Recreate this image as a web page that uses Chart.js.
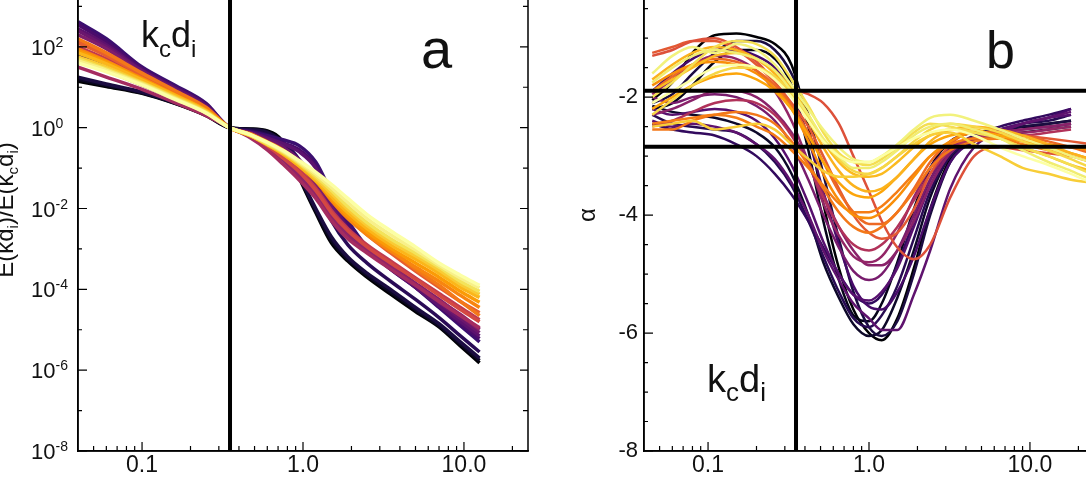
<!DOCTYPE html>
<html lang="en">
<head>
<meta charset="UTF-8">
<title>Normalized spectra and local spectral index</title>
<style>
  html, body { margin: 0; padding: 0; width: 1086px; height: 485px; overflow: hidden; background: #fff; }
  .panel { position: absolute; top: -40px; }
  #panelA { left: 0; }
  #panelB { left: 560px; }
</style>
</head>
<body>
<div id="panelA" class="panel"><canvas id="chartA" width="540" height="525"></canvas></div>
<div id="panelB" class="panel"><canvas id="chartB" width="540" height="525"></canvas></div>

<script src="https://cdn.jsdelivr.net/npm/chart.js@4.4.2/dist/chart.umd.min.js"></script>
<script>
// ---- data -------------------------------------------------------------
// k d_i of the sample points, panel a
const kA = [0.04, 0.06, 0.1, 0.16, 0.25, 0.35, 0.47, 0.6, 0.75, 0.95, 1.2, 1.5, 1.9, 2.5, 3.5, 5, 7, 9.5, 12.5];

// log10 of E(kd_i)/E(k_c d_i), one per interval, dark -> light
const spec01 = [1.15, 1.02, 0.85, 0.6, 0.3, 0, -0.03, -0.08, -0.35, -1.25, -2.1, -2.85, -3.3, -3.7, -4.12, -4.55, -4.93, -5.4, -5.82];
const spec02 = [1.2, 1.05, 0.86, 0.61, 0.31, 0, -0.04, -0.1, -0.38, -1.22, -2.05, -2.78, -3.25, -3.65, -4.06, -4.5, -4.9, -5.35, -5.76];
const spec03 = [1.25, 1.08, 0.88, 0.62, 0.32, 0, -0.05, -0.12, -0.4, -1.2, -2.0, -2.7, -3.2, -3.6, -4.0, -4.45, -4.85, -5.3, -5.7];
const spec04 = [1.8, 1.55, 1.15, 0.8, 0.45, 0, -0.08, -0.18, -0.36, -0.8, -1.5, -2.3, -2.9, -3.35, -3.8, -4.25, -4.7, -5.15, -5.55];
const spec05 = [2.62, 2.2, 1.5, 1.05, 0.6, 0, -0.1, -0.2, -0.3, -0.45, -0.85, -1.6, -2.3, -2.95, -3.45, -3.95, -4.45, -4.9, -5.3];
const spec06 = [2.55, 2.12, 1.46, 1.0, 0.57, 0, -0.11, -0.24, -0.38, -0.55, -0.95, -1.7, -2.4, -3.0, -3.5, -3.95, -4.42, -4.85, -5.22];
const spec07 = [2.45, 2.05, 1.42, 0.98, 0.55, 0, -0.12, -0.26, -0.4, -0.6, -1.0, -1.8, -2.5, -3.0, -3.5, -3.95, -4.4, -4.8, -5.15];
const spec08 = [2.4, 2.0, 1.4, 0.95, 0.52, 0, -0.13, -0.3, -0.48, -0.8, -1.3, -1.95, -2.55, -3.0, -3.45, -3.9, -4.32, -4.72, -5.07];
const spec09 = [2.3, 1.95, 1.35, 0.92, 0.5, 0, -0.15, -0.35, -0.55, -0.9, -1.4, -2.05, -2.6, -3.0, -3.4, -3.85, -4.25, -4.65, -5.0];
const spec10 = [1.7, 1.42, 1.05, 0.7, 0.35, 0, -0.22, -0.48, -0.8, -1.2, -1.65, -2.2, -2.68, -3.05, -3.45, -3.88, -4.28, -4.62, -4.98];
const spec11 = [1.5, 1.25, 0.95, 0.62, 0.3, 0, -0.25, -0.55, -0.9, -1.3, -1.75, -2.3, -2.75, -3.1, -3.5, -3.9, -4.3, -4.65, -4.95];
const spec12 = [2.0, 1.7, 1.25, 0.85, 0.45, 0, -0.18, -0.42, -0.7, -1.05, -1.5, -2.05, -2.5, -2.9, -3.3, -3.72, -4.1, -4.45, -4.75];
const spec13 = [2.15, 1.8, 1.3, 0.9, 0.48, 0, -0.2, -0.45, -0.75, -1.1, -1.55, -2.1, -2.55, -2.95, -3.35, -3.75, -4.15, -4.5, -4.8];
const spec14 = [2.1, 1.78, 1.3, 0.88, 0.47, 0, -0.17, -0.38, -0.6, -0.9, -1.3, -1.75, -2.2, -2.65, -3.1, -3.55, -3.95, -4.3, -4.58];
const spec15 = [2.2, 1.85, 1.35, 0.92, 0.5, 0, -0.15, -0.35, -0.55, -0.85, -1.2, -1.6, -2.05, -2.5, -3.0, -3.5, -3.9, -4.3, -4.65];
const spec16 = [1.95, 1.65, 1.22, 0.82, 0.44, 0, -0.18, -0.4, -0.62, -0.92, -1.3, -1.8, -2.25, -2.65, -3.05, -3.45, -3.8, -4.15, -4.45];
const spec17 = [1.9, 1.62, 1.2, 0.81, 0.43, 0, -0.19, -0.41, -0.64, -0.95, -1.32, -1.75, -2.18, -2.58, -2.98, -3.35, -3.7, -4.05, -4.32];
const spec18 = [1.85, 1.58, 1.18, 0.8, 0.42, 0, -0.2, -0.42, -0.65, -0.95, -1.3, -1.7, -2.1, -2.5, -2.9, -3.25, -3.6, -3.95, -4.2];
const spec19 = [1.75, 1.5, 1.12, 0.76, 0.4, 0, -0.19, -0.41, -0.62, -0.9, -1.25, -1.62, -2.02, -2.42, -2.82, -3.17, -3.52, -3.87, -4.12];
const spec20 = [1.7, 1.45, 1.1, 0.74, 0.38, 0, -0.18, -0.4, -0.6, -0.88, -1.2, -1.55, -1.95, -2.35, -2.75, -3.1, -3.45, -3.8, -4.05];
const spec21 = [1.65, 1.42, 1.08, 0.72, 0.37, 0, -0.17, -0.37, -0.58, -0.85, -1.15, -1.48, -1.85, -2.25, -2.65, -3.02, -3.4, -3.72, -3.96];
const spec22 = [1.6, 1.38, 1.05, 0.7, 0.36, 0, -0.17, -0.36, -0.56, -0.82, -1.1, -1.4, -1.75, -2.15, -2.55, -2.95, -3.35, -3.65, -3.9];

// k d_i of the sample points, panel b
const kB = [0.045, 0.06, 0.08, 0.11, 0.15, 0.2, 0.26, 0.33, 0.42, 0.52, 0.65, 0.8, 1.0, 1.2, 1.5, 1.9, 2.4, 3.2, 4.5, 6.5, 9, 13, 18, 24];

// local spectral index alpha, one per interval, dark -> light
const slope01 = [-2.05, -1.75, -1.25, -0.95, -0.92, -0.98, -1.1, -1.45, -2.5, -3.8, -4.9, -5.6, -6.0, -6.12, -5.75, -4.9, -3.9, -3.05, -2.7, -2.55, -2.5, -2.5, -2.45, null];
const slope02 = [-2.2, -2.1, -1.8, -1.4, -1.2, -1.2, -1.35, -1.8, -2.9, -4.1, -5.1, -5.7, -5.8, -5.5, -4.8, -3.9, -3.2, -2.75, -2.6, -2.55, -2.5, -2.45, -2.4, null];
const slope03 = [-2.15, -2.25, -2.3, -2.35, -2.45, -2.6, -2.85, -3.3, -4.0, -4.8, -5.4, -5.85, -6.05, -5.95, -5.4, -4.6, -3.7, -3.0, -2.75, -2.65, -2.6, -2.55, -2.5, null];
const slope04 = [-2.1, -1.95, -1.6, -1.25, -1.05, -1.05, -1.2, -1.6, -2.3, -3.3, -4.4, -5.3, -5.9, -6.05, -5.8, -5.0, -4.0, -3.1, -2.7, -2.6, -2.5, -2.45, -2.4, null];
const slope05 = [-2.3, -2.45, -2.5, -2.55, -2.6, -2.8, -3.1, -3.5, -4.1, -4.7, -5.3, -5.75, -5.9, -5.7, -5.2, -4.4, -3.6, -3.0, -2.7, -2.55, -2.45, -2.4, -2.3, null];
const slope06 = [-2.45, -2.55, -2.6, -2.65, -2.8, -3.0, -3.3, -3.65, -4.1, -4.55, -5.0, -5.35, -5.5, -5.35, -4.85, -4.1, -3.4, -2.9, -2.65, -2.5, -2.4, -2.3, -2.2, null];
const slope07 = [-1.9, -1.6, -1.35, -1.2, -1.2, -1.3, -1.5, -1.9, -2.7, -3.6, -4.5, -5.2, -5.55, -5.6, -5.3, -4.7, -3.9, -3.1, -2.75, -2.6, -2.45, -2.35, -2.2, null];
const slope08 = [-2.2, -2.3, -2.25, -2.2, -2.25, -2.4, -2.7, -3.15, -3.8, -4.45, -5.0, -5.35, -5.45, -5.3, -4.9, -4.2, -3.5, -2.95, -2.7, -2.55, -2.45, -2.35, -2.3, null];
const slope09 = [-2.4, -2.5, -2.45, -2.5, -2.6, -2.8, -3.05, -3.45, -4.0, -4.6, -5.1, -5.5, -5.75, -5.95, -5.95, -5.35, -4.6, -3.55, -2.85, -2.6, -2.45, -2.35, -2.25, null];
const slope10 = [-2.0, -2.1, -2.0, -1.95, -2.0, -2.15, -2.4, -2.8, -3.4, -4.0, -4.55, -4.95, -5.1, -5.0, -4.6, -4.0, -3.4, -2.9, -2.7, -2.6, -2.55, -2.5, -2.45, null];
const slope11 = [-2.3, -2.2, -2.05, -1.9, -1.9, -2.0, -2.25, -2.6, -3.1, -3.65, -4.2, -4.6, -4.85, -4.85, -4.6, -4.1, -3.5, -2.95, -2.7, -2.6, -2.55, -2.5, -2.45, null];
const slope12 = [-1.95, -1.7, -1.45, -1.3, -1.35, -1.55, -1.9, -2.4, -3.1, -3.8, -4.35, -4.7, -4.8, -4.7, -4.3, -3.7, -3.2, -2.85, -2.7, -2.6, -2.6, -2.55, -2.5, null];
const slope13 = [-2.5, -2.4, -2.25, -2.1, -2.05, -2.1, -2.3, -2.65, -3.15, -3.7, -4.2, -4.5, -4.6, -4.5, -4.2, -3.75, -3.3, -2.9, -2.7, -2.65, -2.65, -2.6, -2.55, null];
const slope14 = [-1.25, -1.15, -1.05, -1.05, -1.2, -1.45, -1.75, -2.1, -2.5, -3.0, -3.55, -4.0, -4.3, -4.4, -4.3, -3.9, -3.3, -2.8, -2.6, -2.6, -2.65, -2.7, -2.75, -2.8];
const slope15 = [-1.3, -1.2, -1.05, -1.0, -1.15, -1.4, -1.7, -1.85, -1.95, -2.1, -2.45, -3.0, -3.6, -4.1, -4.55, -4.75, -4.5, -3.7, -3.0, -2.85, -2.9, -2.95, -3.0, null];
const slope16 = [-1.9, -1.65, -1.45, -1.35, -1.4, -1.55, -1.8, -2.15, -2.6, -3.1, -3.6, -3.95, -4.15, -4.15, -3.95, -3.55, -3.1, -2.75, -2.6, -2.6, -2.65, -2.75, -2.85, -2.95];
const slope17 = [-2.55, -2.55, -2.4, -2.3, -2.25, -2.3, -2.45, -2.75, -3.15, -3.55, -3.95, -4.2, -4.3, -4.2, -3.95, -3.6, -3.2, -2.9, -2.75, -2.7, -2.75, -2.8, -2.85, null];
const slope18 = [-2.45, -2.4, -2.35, -2.3, -2.35, -2.5, -2.65, -2.9, -3.2, -3.5, -3.8, -3.95, -3.95, -3.85, -3.6, -3.3, -3.0, -2.8, -2.7, -2.7, -2.8, -2.9, -3.0, -3.1];
const slope19 = [-1.8, -1.6, -1.45, -1.4, -1.45, -1.6, -1.85, -2.2, -2.75, -3.3, -3.75, -4.0, -4.05, -3.95, -3.7, -3.35, -3.0, -2.75, -2.6, -2.65, -2.7, -2.8, -2.85, -2.9];
const slope20 = [-2.2, -2.0, -1.8, -1.65, -1.6, -1.7, -1.9, -2.2, -2.65, -3.1, -3.45, -3.65, -3.7, -3.6, -3.35, -3.05, -2.8, -2.65, -2.6, -2.65, -2.75, -2.85, -2.95, -3.05];
const slope21 = [-1.7, -1.45, -1.25, -1.15, -1.2, -1.35, -1.6, -1.95, -2.4, -2.85, -3.25, -3.5, -3.6, -3.55, -3.35, -3.05, -2.75, -2.55, -2.5, -2.55, -2.65, -2.8, -2.95, -3.05];
const slope22 = [-1.9, -1.7, -1.5, -1.3, -1.25, -1.35, -1.55, -1.85, -2.3, -2.75, -3.1, -3.3, -3.35, -3.3, -3.1, -2.85, -2.65, -2.55, -2.55, -2.7, -2.85, -3.0, -3.15, -3.25];
const slope23 = [-2.5, -2.45, -2.4, -2.55, -2.5, -2.45, -2.55, -2.8, -3.05, -3.25, -3.35, -3.35, -3.3, -3.2, -3.0, -2.8, -2.65, -2.6, -2.8, -3.0, -3.2, -3.3, -3.4, -3.45];
const slope24 = [-2.3, -2.05, -1.8, -1.6, -1.5, -1.5, -1.65, -1.95, -2.35, -2.75, -3.05, -3.25, -3.3, -3.2, -3.0, -2.75, -2.55, -2.45, -2.5, -2.6, -2.75, -2.9, -3.05, -3.2];
const slope25 = [-2.0, -1.75, -1.45, -1.15, -1.05, -1.1, -1.3, -1.7, -2.15, -2.6, -2.95, -3.1, -3.15, -3.05, -2.85, -2.6, -2.45, -2.5, -2.6, -2.7, -2.85, -3.0, -3.15, -3.3];
const slope26 = [-1.6, -1.3, -1.15, -1.25, -1.1, -1.2, -1.45, -1.8, -2.2, -2.55, -2.85, -3.05, -3.1, -3.0, -2.8, -2.55, -2.35, -2.3, -2.4, -2.55, -2.7, -2.85, -3.0, -3.1];
const slope27 = [-1.75, -1.5, -1.3, -1.2, -1.25, -1.35, -1.55, -1.9, -2.3, -2.7, -3.0, -3.2, -3.2, -3.1, -2.9, -2.65, -2.5, -2.45, -2.55, -2.7, -2.9, -3.1, -3.25, -3.4];
const slope28 = [-2.1, -1.9, -1.7, -1.5, -1.45, -1.5, -1.7, -2.0, -2.4, -2.75, -3.0, -3.1, -3.1, -3.0, -2.85, -2.7, -2.6, -2.55, -2.65, -2.85, -3.0, -3.15, -3.3, -3.45];

// axes
const xTicks = [0.05, 0.06, 0.07, 0.08, 0.09, 0.1, 0.2, 0.3, 0.4, 0.5, 0.6, 0.7, 0.8, 0.9, 1, 2, 3, 4, 5, 6, 7, 8, 9, 10, 20];
const xLabels = { 0.1: '0.1', 1: '1.0', 10: '10.0' };
const decadesA = [-8, -7, -6, -5, -4, -3, -2, -1, 0, 1, 2, 3];
const alphaTicks = [-8, -7.5, -7, -6.5, -6, -5.5, -5, -4.5, -4, -3.5, -3, -2.5, -2, -1.5, -1, -0.5, 0];

// reference lines
const kc = 0.352;
const alphaLines = [-1.89, -2.84];

// ---- styling ----------------------------------------------------------
const FONT = "'Liberation Sans', Arial, Helvetica, sans-serif";
Chart.defaults.font.family = FONT;
Chart.defaults.color = '#111';

const specSeries = [spec01, spec02, spec03, spec04, spec05, spec06, spec07, spec08, spec09, spec10, spec11,
                    spec12, spec13, spec14, spec15, spec16, spec17, spec18, spec19, spec20, spec21, spec22];
const specColors = ['#000004', '#0a0722', '#1b0c41', '#2a0b57', '#3b0f70', '#4a0c6b', '#5c126e', '#6b176e', '#7e1e6c', '#8f2469', '#a52c60',
                    '#c13a50', '#d44842', '#e65d2f', '#f37819', '#f8850f', '#fb9b06', '#fbb61a', '#f9cb35', '#f3e35a', '#f8f08a', '#fcffa4'];

const slopeSeries = [slope01, slope02, slope03, slope04, slope05, slope06, slope07, slope08, slope09, slope10, slope11, slope12, slope13, slope14,
                     slope15, slope16, slope17, slope18, slope19, slope20, slope21, slope22, slope23, slope24, slope25, slope26, slope27, slope28];
const slopeColors = ['#000004', '#06051a', '#0d0829', '#1b0c41', '#280b53', '#320a5e', '#470b6a', '#57106e', '#5f136e', '#781c6d', '#8a226a', '#932667', '#b1325a', '#e35933',
                     '#dd513a', '#ed6925', '#f37819', '#f57d15', '#f98e09', '#fca50a', '#fbb21d', '#fbba1f', '#f8cd37', '#f6d746', '#f4de52', '#f2f27d', '#f1ed71', '#fcffa4'];

function makeSets(xs, series, colors, toY, width) {
  const n = series.length;
  return series.map((ys, i) => ({
    data: xs.map((x, j) => ({ x: x, y: ys[j] == null ? null : toY(ys[j]) })),
    borderColor: colors[i],
    borderWidth: width,
    pointRadius: 0,
    fill: false,
    cubicInterpolationMode: 'monotone',
    order: n - i          // light curves end up on top
  }));
}

// text with sub/superscripts: parts = [text, size, dy]
function richText(ctx, parts, x, y, align) {
  let w = 0;
  parts.forEach(p => { ctx.font = p[1] + 'px ' + FONT; w += ctx.measureText(p[0]).width; });
  let cx = align === 'center' ? x - w / 2 : x;
  ctx.textAlign = 'left';
  ctx.textBaseline = 'alphabetic';
  parts.forEach(p => {
    ctx.font = p[1] + 'px ' + FONT;
    ctx.fillText(p[0], cx, y + (p[2] || 0));
    cx += ctx.measureText(p[0]).width;
  });
}

// frame, inward ticks, reference lines and labels
const framePlugin = {
  id: 'frame',
  afterDatasetsDraw(chart, args, opts) {
    const { ctx, chartArea: a, scales: { x, y } } = chart;
    ctx.save();
    ctx.strokeStyle = '#000';
    ctx.lineCap = 'butt';

    ctx.lineWidth = 4;
    ctx.beginPath();
    (opts.vLines || []).forEach(v => {
      const px = x.getPixelForValue(v);
      ctx.moveTo(px, a.top); ctx.lineTo(px, a.bottom);
    });
    (opts.hLines || []).forEach(v => {
      const py = y.getPixelForValue(v);
      ctx.moveTo(a.left, py); ctx.lineTo(a.right, py);
    });
    ctx.stroke();

    ctx.lineWidth = 1.5;
    ctx.beginPath();
    ctx.moveTo(a.left, a.top); ctx.lineTo(a.left, a.bottom);
    ctx.lineTo(a.right, a.bottom); ctx.lineTo(a.right, a.top);
    ctx.stroke();

    ctx.lineWidth = 1.2;
    ctx.beginPath();
    xTicks.forEach(v => {
      const px = x.getPixelForValue(v);
      const len = xLabels[v] ? 9 : 5;
      ctx.moveTo(px, a.bottom); ctx.lineTo(px, a.bottom - len);
    });
    opts.yTicks.forEach(t => {
      const py = y.getPixelForValue(t.v);
      const len = t.major ? 9 : 4;
      ctx.moveTo(a.left, py); ctx.lineTo(a.left + len, py);
      ctx.moveTo(a.right, py); ctx.lineTo(a.right - (t.major ? 8 : 5), py);
    });
    ctx.stroke();

    ctx.fillStyle = '#111';
    (opts.texts || []).forEach(t => richText(ctx, t.parts, t.x, t.y, t.align));
    if (opts.yPowers) {
      opts.yPowers.forEach(e => {
        const py = y.getPixelForValue(Math.pow(10, e));
        ctx.font = '22px ' + FONT;
        ctx.textAlign = 'left';
        ctx.textBaseline = 'alphabetic';
        ctx.fillText('10', 31, py + 8);
        const w = ctx.measureText('10').width;
        ctx.font = '14px ' + FONT;
        ctx.fillText(e < 0 ? '-' + (-e) : String(e), 31 + w, py);
      });
    }
    if (opts.rotTitle) {
      ctx.translate(opts.rotTitle.x, opts.rotTitle.y);
      ctx.rotate(-Math.PI / 2);
      richText(ctx, opts.rotTitle.parts, 0, 0, 'center');
    }
    ctx.restore();
  }
};

const xScale = {
  type: 'logarithmic',
  min: 0.04,
  max: 25,
  grid: { display: false, drawTicks: false },
  border: { display: true, color: '#000', width: 1.5 },
  afterBuildTicks: s => { s.ticks = xTicks.map(v => ({ value: v })); },
  afterFit: s => { s.height = 34; },
  ticks: {
    autoSkip: false,
    maxRotation: 0,
    padding: 1,
    color: '#111',
    font: { size: 23 },
    callback: v => xLabels[v] || ''
  }
};

// ---- panel a ----------------------------------------------------------
new Chart(document.getElementById('chartA'), {
  type: 'line',
  data: { datasets: makeSets(kA, specSeries, specColors, v => Math.pow(10, v), 3.5) },
  options: {
    responsive: false,
    animation: false,
    devicePixelRatio: 1,
    layout: { padding: { top: 6, right: 12, left: 0, bottom: 0 } },
    plugins: {
      legend: { display: false },
      tooltip: { enabled: false },
      frame: {
        vLines: [kc],
        yTicks: decadesA.map(e => ({ v: Math.pow(10, e), major: e % 2 === 0 })),
        yPowers: [-8, -6, -4, -2, 0, 2],
        texts: [
          { parts: [['k', 36], ['c', 24, 10], ['d', 36], ['i', 24, 10]], x: 141, y: 87 },
          { parts: [['a', 56]], x: 421, y: 108 }
        ],
        rotTitle: { x: 13, y: 250, parts: [['E(kd', 24], ['i', 15, 5], [')/E(k', 24], ['c', 15, 5], ['d', 24], ['i', 15, 5], [')', 24]] }
      }
    },
    scales: {
      x: xScale,
      y: {
        type: 'logarithmic',
        min: 1e-8,
        max: 1e4,
        grid: { display: false, drawTicks: false },
        border: { display: true, color: '#000', width: 1.5 },
        ticks: { display: false },
        afterFit: s => { s.width = 78; }
      }
    }
  },
  plugins: [framePlugin]
});

// ---- panel b ----------------------------------------------------------
new Chart(document.getElementById('chartB'), {
  type: 'line',
  data: { datasets: makeSets(kB, slopeSeries, slopeColors, v => v, 2.5) },
  options: {
    responsive: false,
    animation: false,
    devicePixelRatio: 1,
    layout: { padding: { top: 6, right: 6, left: 0, bottom: 0 } },
    plugins: {
      legend: { display: false },
      tooltip: { enabled: false },
      frame: {
        vLines: [kc],
        hLines: alphaLines,
        yTicks: alphaTicks.map(v => ({ v: v, major: v % 2 === 0 })),
        texts: [
          { parts: [['k', 38], ['c', 26, 9], ['d', 38], ['i', 26, 9]], x: 147, y: 432 },
          { parts: [['b', 52]], x: 426, y: 108 }
        ]
      }
    },
    scales: {
      x: xScale,
      y: {
        type: 'linear',
        min: -8,
        max: 0,
        grid: { display: false, drawTicks: false },
        border: { display: true, color: '#000', width: 1.5 },
        afterBuildTicks: s => { s.ticks = alphaTicks.map(v => ({ value: v })); },
        afterFit: s => { s.width = 84; },
        title: { display: true, text: 'α', font: { size: 24 }, color: '#111', padding: { top: 14, bottom: 0 } },
        ticks: {
          autoSkip: false,
          padding: 6,
          color: '#111',
          font: { size: 22 },
          callback: v => (v % 2 === 0 && v < 0) ? String(v) : ''
        }
      }
    }
  },
  plugins: [framePlugin]
});
</script>
</body>
</html>
